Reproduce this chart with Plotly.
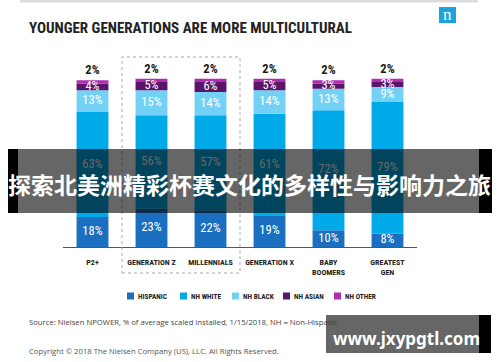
import plotly.graph_objects as go

categories = ["P2+", "GENERATION Z", "MILLENNIALS", "GENERATION X", "BABY<br>BOOMERS", "GREATEST<br>GEN"]
series_names = ["HISPANIC", "NH WHITE", "NH BLACK", "NH ASIAN", "NH OTHER"]
hispanic = [18, 23, 22, 19, 10, 8]
nh_white = [63, 56, 57, 61, 72, 79]
nh_black = [13, 15, 14, 14, 13, 9]
nh_asian = [4, 5, 6, 5, 3, 3]
nh_other = [2, 2, 2, 2, 2, 2]
series_values = [hispanic, nh_white, nh_black, nh_asian, nh_other]
colors = ["#1a6fc0", "#00aae9", "#74d1f6", "#5a1468", "#b02cb0"]

title = "YOUNGER GENERATIONS ARE MORE MULTICULTURAL"
source = "Source: Nielsen NPOWER, % of average scaled installed, 1/15/2018, NH = Non-Hispanic"
copyright_txt = "Copyright © 2018 The Nielsen Company (US), LLC. All Rights Reserved."
banner = "探索北美洲精彩杯赛文化的多样性与影响力之旅"
watermark = "www.jxypgtl.com"

COND = "Roboto Condensed, DejaVu Sans Condensed, Liberation Sans Narrow, Roboto, sans-serif"
W, H = 500, 362

def px(x):
    return x / W

def py(y):
    return 1 - y / H

x_idx = list(range(len(categories)))
fig = go.Figure()
base = [0] * len(categories)
for name, vals, col in zip(series_names, series_values, colors):
    fig.add_trace(go.Bar(x=x_idx, y=vals, base=base, name=name, marker_color=col,
                         marker_line_width=0, showlegend=False, hoverinfo="skip"))
    mids = [b + v / 2 for b, v in zip(base, vals)]
    if name == "NH OTHER":
        ty = [b + v + 5.5 for b, v in zip(base, vals)]
        fig.add_trace(go.Scatter(x=x_idx, y=ty, mode="text", text=[f"<b>{v}%</b>" for v in vals],
                                 textfont=dict(family=COND, size=12.5, color="#1a1a1a"),
                                 showlegend=False, hoverinfo="skip"))
    else:
        fig.add_trace(go.Scatter(x=x_idx, y=mids, mode="text", text=[f"{v}%" for v in vals],
                                 textfont=dict(family=COND, size=12.5, color="white"),
                                 showlegend=False, hoverinfo="skip"))
    base = [b + v for b, v in zip(base, vals)]

shapes = []
annotations = []
# top rule
shapes.append(dict(type="line", xref="paper", yref="paper", x0=px(20), x1=px(478), y0=py(1), y1=py(1),
                   line=dict(color="#dcdcdc", width=3)))
# dotted highlight box around Gen Z and Millennials
shapes.append(dict(type="rect", xref="x", yref="paper", x0=0.5, x1=2.5, y0=py(273), y1=py(57),
                   line=dict(color="#aaaaaa", width=1, dash="dot"), fillcolor="rgba(0,0,0,0)"))
# logo
shapes.append(dict(type="rect", xref="paper", yref="paper", x0=px(439), x1=px(456), y0=py(23), y1=py(7),
                   fillcolor="#1ba3e0", line_width=0, layer="below"))
annotations.append(dict(x=px(447.5), y=py(14), xref="paper", yref="paper", text="n", showarrow=False,
                        xanchor="center", yanchor="middle",
                        font=dict(family="Liberation Serif, DejaVu Serif, serif", size=17, color="white")))
# title
annotations.append(dict(x=px(27), y=py(28), xref="paper", yref="paper", xanchor="left", yanchor="middle",
                        text=f"<b>{title}</b>", showarrow=False,
                        font=dict(family=COND, size=15, color="#222222")))
# manual legend
sq_x = [127, 180, 232, 283, 334]
for name, col, sx in zip(series_names, colors, sq_x):
    shapes.append(dict(type="rect", xref="paper", yref="paper", x0=px(sx), x1=px(sx + 7),
                       y0=py(299.5), y1=py(292.5), fillcolor=col, line_width=0))
    annotations.append(dict(x=px(sx + 9), y=py(296), xref="paper", yref="paper", xanchor="left",
                            yanchor="middle", text=f"<b>{name}</b>", showarrow=False,
                            font=dict(family=COND, size=7.3, color="#222222")))
# source and copyright
annotations.append(dict(x=px(27), y=py(322), xref="paper", yref="paper", xanchor="left", yanchor="middle",
                        text=source, showarrow=False, font=dict(family="Open Sans", size=7.7, color="#444444")))
annotations.append(dict(x=px(27), y=py(351), xref="paper", yref="paper", xanchor="left", yanchor="middle",
                        text=copyright_txt, showarrow=False, font=dict(family="Open Sans", size=7.7, color="#555555")))
# banner overlay
shapes.append(dict(type="rect", xref="paper", yref="paper", x0=px(18), x1=px(479), y0=py(213), y1=py(149),
                   fillcolor="rgba(0,0,0,0.6)", line_width=0, layer="above"))
shapes.append(dict(type="rect", xref="paper", yref="paper", x0=px(8), x1=px(18), y0=py(213), y1=py(149),
                   fillcolor="#000000", line_width=0, layer="above"))
shapes.append(dict(type="rect", xref="paper", yref="paper", x0=px(479), x1=px(492), y0=py(213), y1=py(149),
                   fillcolor="#000000", line_width=0, layer="above"))
annotations.append(dict(x=px(249), y=py(184), xref="paper", yref="paper", xanchor="center", yanchor="middle",
                        text=f"<b>{banner}</b>", showarrow=False,
                        font=dict(family="Noto Sans CJK SC", size=23, color="white")))
# watermark box
shapes.append(dict(type="rect", xref="paper", yref="paper", x0=px(326), x1=px(479), y0=py(353), y1=py(315),
                   fillcolor="rgba(0,0,0,0.6)", line_width=0, layer="above"))
shapes.append(dict(type="rect", xref="paper", yref="paper", x0=px(479), x1=px(491), y0=py(353), y1=py(315),
                   fillcolor="#000000", line_width=0, layer="above"))
annotations.append(dict(x=px(406), y=py(338), xref="paper", yref="paper", xanchor="center", yanchor="middle",
                        text=f"<b>{watermark}</b>", showarrow=False,
                        font=dict(family="Noto Sans", size=17, color="white")))

fig.update_layout(
    width=W, height=H, margin=dict(l=0, r=0, t=0, b=0),
    paper_bgcolor="white", plot_bgcolor="white",
    barmode="overlay", bargap=0.46,
    showlegend=False,
    shapes=shapes, annotations=annotations,
    xaxis=dict(domain=[px(63), px(417)], range=[-0.5, 5.5], tickmode="array", tickvals=x_idx,
               ticktext=[f"<b>{c}</b>" for c in categories], showgrid=False, zeroline=False,
               showline=True, linecolor="#555555", linewidth=1, ticks="", tickangle=0,
               ticklabelstandoff=7,
               tickfont=dict(family=COND, size=8, color="#222222"), fixedrange=True),
    yaxis=dict(domain=[py(247), py(47)], range=[0, 120], visible=False, fixedrange=True),
)

fig.write_html("out.html", config={"displayModeBar": False},
               post_script="document.body.style.margin='0';")
